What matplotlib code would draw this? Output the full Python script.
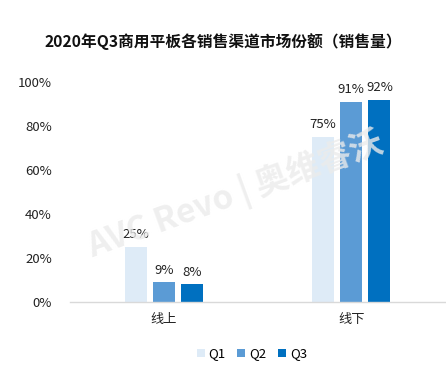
import numpy as np
import matplotlib; matplotlib.use("Agg")
import matplotlib.pyplot as plt

plt.rcParams['font.family'] = ['Noto Sans CJK SC', 'DejaVu Sans']

categorias = ["线上", "线下"]
series = ["Q1", "Q2", "Q3"]
q1 = [25, 75]
q2 = [9, 91]
q3 = [8, 92]
colores = ["#DEEBF7", "#5B9BD5", "#0070C0"]

fig = plt.figure(figsize=(4.46, 3.68), dpi=100)
ax = fig.add_axes([70 / 446, 1 - 302 / 368, 375 / 446, 220 / 368])

x = np.arange(len(categorias))
w = 0.118
paso = 0.15
for i, (nom, vals, col) in enumerate(zip(series, [q1, q2, q3], colores)):
    pos = x + (i - 1) * paso
    ax.bar(pos, vals, width=w, color=col, label=nom, zorder=2)
    for p, v in zip(pos, vals):
        ax.text(p, v + 2.5, f"{v}%", ha="center", va="bottom", fontsize=9.5, color="#222222", zorder=3)

ax.set_xlim(-0.5, 1.5)
ax.set_ylim(0, 100)
ax.set_yticks(np.arange(0, 101, 20))
ax.set_yticklabels([f"{t}%" for t in range(0, 101, 20)])
ax.set_xticks(x)
ax.set_xticklabels(categorias)
ax.tick_params(length=0, labelsize=9.5, labelcolor="#222222")
ax.tick_params(axis="y", pad=13)
ax.tick_params(axis="x", pad=8)
for s in ["top", "right", "left"]:
    ax.spines[s].set_visible(False)
ax.spines["bottom"].set_color("#d9d9d9")
ax.spines["bottom"].set_linewidth(1.0)

# marca de agua
fig.text(235 / 446, 1 - 195 / 368, "AVC Revo | 奥维睿沃", fontsize=24, fontweight="bold",
         color="#ebebeb", rotation=20, ha="center", va="center", zorder=0, alpha=0.8)

fig.text(0.5, 1 - 42 / 368, "2020年Q3商用平板各销售渠道市场份额（销售量）",
         ha="center", va="center", fontsize=11.3, fontweight="bold", color="#111111")

fig.legend(loc="center", bbox_to_anchor=(252 / 446, 1 - 354 / 368), ncol=3, frameon=False,
           fontsize=9.5, handlelength=0.6, handleheight=0.6, handletextpad=0.3,
           columnspacing=0.9)

fig.savefig("out.png", dpi=100)
